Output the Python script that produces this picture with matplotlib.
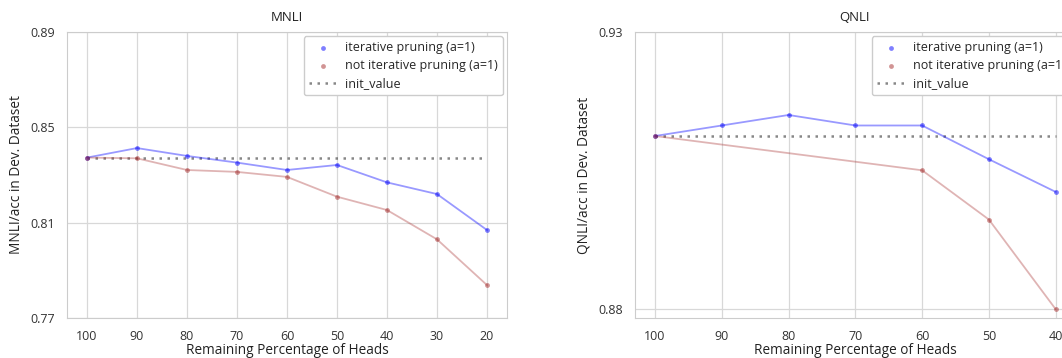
import matplotlib
matplotlib.use("Agg")
import matplotlib.pyplot as plt
import seaborn as sns

sns.set_style("whitegrid")
plt.rcParams['font.family'] = ['Open Sans', 'DejaVu Sans']

# ---- data ----
heads_mnli = [100, 90, 80, 70, 60, 50, 40, 30, 20]
mnli_iter = [0.8373, 0.8413, 0.8380, 0.8352, 0.8321, 0.8342, 0.8269, 0.8220, 0.8069]
mnli_not = [0.8373, 0.8370, 0.8321, 0.8313, 0.8292, 0.8209, 0.8153, 0.8030, 0.7838]
mnli_init = 0.8373

heads_qnli = [100, 90, 80, 70, 60, 50, 40]
qnli_iter = [0.9112, 0.9131, 0.9150, 0.9131, 0.9131, 0.9070, 0.9011]
heads_qnli_not = [100, 60, 50, 40]
qnli_not = [0.9112, 0.9050, 0.8961, 0.8799]
qnli_init = 0.9112

BLUE = "blue"; RED = "brown"; GREY = "#555555"

W, H = 1062, 358
fig = plt.figure(figsize=(W / 100, H / 100), dpi=100)

def panel(rect, title, ylabel, x_it, y_it, x_no, y_no, init, xticks, xlim, ylim, yticks):
    ax = fig.add_axes(rect)
    ax.plot(x_it, y_it, color=BLUE, alpha=0.4, lw=1.3, zorder=3)
    ax.scatter(x_it, y_it, color=BLUE, alpha=0.5, s=12, lw=0, zorder=4, label="iterative pruning (a=1)")
    ax.plot(x_no, y_no, color=RED, alpha=0.35, lw=1.3, zorder=3)
    ax.scatter(x_no, y_no, color=RED, alpha=0.5, s=12, lw=0, zorder=4, label="not iterative pruning (a=1)")
    ax.plot([x_it[0], xticks[-1]], [init, init], ls=(0, (1, 2.2)), lw=1.8, color=GREY, alpha=0.7,
            zorder=2, label="init_value")
    ax.set_xlim(*xlim); ax.set_ylim(*ylim)
    ax.set_xticks(xticks); ax.set_yticks(yticks)
    ax.set_yticklabels([f"{v:.2f}" for v in yticks])
    ax.tick_params(labelsize=9, colors="#333333", pad=5)
    ax.set_title(title, fontsize=9.5, color="#222222", pad=8)
    ax.set_xlabel("Remaining Percentage of Heads", fontsize=9.8, color="#222222", labelpad=0)
    ax.set_ylabel(ylabel, fontsize=9.8, color="#222222", labelpad=5)
    for s in ax.spines.values():
        s.set_color("#cccccc")
    ax.grid(color="#d8d8d8", lw=0.9)
    ax.legend(loc="upper right", fontsize=9, frameon=True, borderaxespad=0.35,
              handlelength=2.3, handletextpad=0.6, labelspacing=0.4, framealpha=1,
              edgecolor="#cccccc")
    return ax

panel([67 / W, 40 / H, 440 / W, 286 / H], "MNLI", "MNLI/acc in Dev. Dataset",
      heads_mnli, mnli_iter, heads_mnli, mnli_not, mnli_init,
      [100, 90, 80, 70, 60, 50, 40, 30, 20], (104, 16), (0.77, 0.89), [0.77, 0.81, 0.85, 0.89])

panel([635 / W, 40 / H, 440 / W, 286 / H], "QNLI", "QNLI/acc in Dev. Dataset",
      heads_qnli, qnli_iter, heads_qnli_not, qnli_not, qnli_init,
      [100, 90, 80, 70, 60, 50, 40], (103, 37.1), (0.8783, 0.93), [0.88, 0.93])

fig.savefig("out.png", dpi=100)
